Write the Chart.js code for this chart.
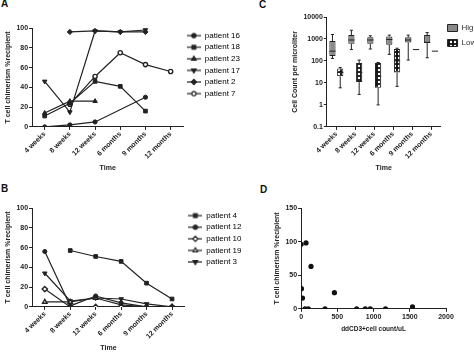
<!DOCTYPE html>
<html>
<head>
<meta charset="utf-8">
<script src="https://cdn.jsdelivr.net/npm/chart.js@4.4.1/dist/chart.umd.min.js"></script>
<style>
  html, body { margin: 0; padding: 0; background: #fff; }
  body { width: 474px; height: 354px; position: relative; overflow: hidden; }
  canvas { position: absolute; }
  .lbl { position: absolute; font: bold 10px Arial, "Liberation Sans", sans-serif; color: #111; }
</style>
</head>
<body>
<div class="lbl" style="left:1px;top:-2px">A</div>
<div class="lbl" style="left:1px;top:183px">B</div>
<div class="lbl" style="left:259px;top:-1px">C</div>
<div class="lbl" style="left:260px;top:184px">D</div>
<canvas id="cA" width="245" height="178" style="left:0;top:0"></canvas>
<canvas id="cB" width="245" height="176" style="left:0;top:178px"></canvas>
<canvas id="cC" width="245" height="178" style="left:245px;top:0"></canvas>
<canvas id="cD" width="229" height="176" style="left:245px;top:178px"></canvas>
<script>
const timeLabels = ['4 weeks', '8 weeks', '12 weeks', '6 months', '9 months', '12 months'];

// panel A
const p16 = [0, 2, 5, null, 30, null];
const p18 = [11, 24, 46, 41, 16, null];
const p23 = [14, 26, 26, null, null, null];
const p17 = [46, 15, 97, 96, 98, null];
const p2 = [null, 96, 97, 96, 96, null];
const p7 = [null, 23, 51, 75, 63, 56];

// panel B
const p4 = [null, 57, 51, 46, 24, 8];
const p12 = [56, 1, 11, 4, 0, 0];
const p10 = [18, 0, 0, 0, 0, 0];
const p19 = [5, 5, 9, 2, 0, 0];
const p3 = [34, 6, 9, 8, 3, 0];

// panel C (box plots, cells per microliter)
const highMin = [130, 330, 350, 200, 110, 140];
const highQ1 = [170, 600, 600, 550, 700, 650];
const highMed = [280, 900, 900, 950, 900, 700];
const highQ3 = [800, 1500, 1200, 1300, 1200, 1500];
const highMax = [1600, 2500, 1400, 1500, 1500, 1950];
const lowMin = [6, 3, 1, 7, null, null];
const lowQ1 = [20, 11, 6, 30, null, null];
const lowMed = [30, 30, 20, 100, 330, 280];
const lowQ3 = [45, 80, 80, 350, null, null];
const lowMax = [50, 110, 85, 380, null, null];
const logTicks = [0.1, 1, 10, 100, 1000, 10000];

// panel D
const cd3Count = [0, 5, 20, 68, 137, 55, 100, 330, 460, 767, 886, 955, 1166, 1538];
const chimerism = [96, 30, 16, 98, 63, 0, 0, 0, 24, 0, 0, 0, 0, 3];

Chart.defaults.font.family = 'Arial, "Liberation Sans", sans-serif';
Chart.defaults.font.size = 7;
Chart.defaults.font.weight = 'bold';
Chart.defaults.color = '#222';
Chart.defaults.animation = false;
Chart.defaults.responsive = false;
Chart.defaults.plugins.tooltip.enabled = false;

const ink = '#222';

function legendIcon(style, rot, fill, r) {
  const c = document.createElement('canvas');
  c.width = 14; c.height = 8;
  const g = c.getContext('2d');
  g.strokeStyle = ink; g.lineWidth = 1.2;
  g.beginPath(); g.moveTo(0, 4); g.lineTo(14, 4); g.stroke();
  g.fillStyle = fill;
  Chart.helpers.drawPoint(g, { pointStyle: style, rotation: rot, radius: r, borderWidth: 1.2 }, 7, 4);
  return c;
}

function series(label, data, style, rot, fill) {
  const r = style === 'circle' ? 2.1 : 2.6;
  return {
    label, data,
    borderColor: ink, borderWidth: 1.2,
    pointStyle: style, pointRotation: rot || 0,
    pointRadius: r, pointBorderWidth: fill === '#fff' ? 1.4 : 1,
    pointBackgroundColor: fill, pointBorderColor: ink,
    spanGaps: true,
    icon: legendIcon(style, rot || 0, fill, r)
  };
}

function catAxis() {
  return {
    type: 'category', offset: true,
    grid: { offset: false, drawOnChartArea: false, color: ink, tickLength: 3 },
    border: { color: ink, width: 1 },
    ticks: { minRotation: 45, maxRotation: 45, padding: 0, color: ink },
    title: { display: true, text: 'Time', color: ink, padding: { top: 3, bottom: 0 } }
  };
}

function valAxis(max, step, title) {
  return {
    min: 0, max: max,
    grid: { drawOnChartArea: false, color: ink, tickLength: 3 },
    border: { color: ink, width: 1 },
    ticks: { stepSize: step, padding: 1, color: ink },
    title: { display: true, text: title, color: ink, padding: { top: 0, bottom: 3 } }
  };
}

const lineLegend = {
  position: 'right', align: 'start',
  labels: {
    usePointStyle: true, pointStyleWidth: 14, boxHeight: 8, padding: 3.6,
    color: '#333', font: { size: 8, weight: 'normal' },
    generateLabels: chart => chart.data.datasets.map((ds, i) => ({
      text: ds.label, pointStyle: ds.icon, datasetIndex: i,
      fillStyle: 'transparent', strokeStyle: 'transparent', lineWidth: 0, hidden: false
    }))
  }
};

new Chart(document.getElementById('cA'), {
  type: 'line',
  data: {
    labels: timeLabels,
    datasets: [
      series('patient 16', p16, 'circle', 0, ink),
      series('patient 18', p18, 'rect', 0, ink),
      series('patient 23', p23, 'triangle', 0, ink),
      series('patient 17', p17, 'triangle', 180, ink),
      series('patient 2', p2, 'rectRot', 0, ink),
      series('patient 7', p7, 'circle', 0, '#fff')
    ]
  },
  options: {
    layout: { padding: { left: 4, top: 28, right: 2, bottom: 6 } },
    plugins: { legend: lineLegend },
    scales: { x: catAxis(), y: valAxis(100, 20, 'T cell chimerism %recipient') }
  }
});

new Chart(document.getElementById('cB'), {
  type: 'line',
  data: {
    labels: timeLabels,
    datasets: [
      series('patient 4', p4, 'rect', 0, ink),
      series('patient 12', p12, 'circle', 0, ink),
      series('patient 10', p10, 'rectRot', 0, '#fff'),
      series('patient 19', p19, 'triangle', 0, '#fff'),
      series('patient 3', p3, 'triangle', 180, ink)
    ]
  },
  options: {
    layout: { padding: { left: 4, top: 30, right: 0, bottom: 2 } },
    plugins: { legend: lineLegend },
    scales: { x: catAxis(), y: valAxis(100, 20, 'T cell chimerism %recipient') }
  }
});

// checkered fill for the "Low" boxes
const cC = document.getElementById('cC');
const tile = document.createElement('canvas');
tile.width = 4; tile.height = 4;
const tg = tile.getContext('2d');
tg.fillStyle = '#111'; tg.fillRect(0, 0, 4, 4);
tg.fillStyle = '#fff';
tg.beginPath(); tg.arc(2, 2, 1.2, 0, Math.PI * 2); tg.fill();
const checker = cC.getContext('2d').createPattern(tile, 'repeat');

const boxWhiskers = {
  id: 'boxWhiskers',
  afterDatasetsDraw(chart) {
    const ctx = chart.ctx, y = chart.scales.y;
    const stats = [[highMin, highQ1, highMed, highQ3, highMax], [lowMin, lowQ1, lowMed, lowQ3, lowMax]];
    ctx.save();
    ctx.strokeStyle = ink; ctx.lineWidth = 1;
    stats.forEach((s, di) => {
      chart.getDatasetMeta(di).data.forEach((bar, i) => {
        const x = bar.x, w = bar.width;
        const [mn, q1, md, q3, mx] = s.map(a => a[i]);
        ctx.beginPath();
        if (q1 == null) {
          ctx.moveTo(x - w / 2, y.getPixelForValue(md));
          ctx.lineTo(x + w / 2, y.getPixelForValue(md));
        } else {
          ctx.moveTo(x, y.getPixelForValue(q3)); ctx.lineTo(x, y.getPixelForValue(mx));
          ctx.moveTo(x, y.getPixelForValue(q1)); ctx.lineTo(x, y.getPixelForValue(mn));
          ctx.moveTo(x - w / 4, y.getPixelForValue(mx)); ctx.lineTo(x + w / 4, y.getPixelForValue(mx));
          ctx.moveTo(x - w / 4, y.getPixelForValue(mn)); ctx.lineTo(x + w / 4, y.getPixelForValue(mn));
          ctx.moveTo(x - w / 2, y.getPixelForValue(md)); ctx.lineTo(x + w / 2, y.getPixelForValue(md));
        }
        ctx.stroke();
      });
    });
    ctx.restore();
  }
};

new Chart(cC, {
  type: 'bar',
  data: {
    labels: timeLabels,
    datasets: [
      {
        label: 'High', data: highQ1.map((v, i) => [v, highQ3[i]]),
        backgroundColor: '#8a8a8a', borderColor: ink, borderWidth: 1, borderSkipped: false,
        categoryPercentage: 0.82, barPercentage: 0.8
      },
      {
        label: 'Low', data: lowQ1.map((v, i) => v == null ? null : [v, lowQ3[i]]),
        backgroundColor: checker, borderColor: ink, borderWidth: 1, borderSkipped: false,
        categoryPercentage: 0.82, barPercentage: 0.8
      }
    ]
  },
  options: {
    layout: { padding: { left: 46, top: 17, right: 2, bottom: 6 } },
    plugins: {
      legend: {
        position: 'right', align: 'start',
        labels: { boxWidth: 10, boxHeight: 7, padding: 7, color: '#333', font: { size: 8, weight: 'normal' } }
      }
    },
    scales: {
      x: catAxis(),
      y: {
        type: 'logarithmic', min: 0.1, max: 10000,
        afterBuildTicks: axis => { axis.ticks = logTicks.map(v => ({ value: v })); },
        grid: { drawOnChartArea: false, color: ink, tickLength: 3 },
        border: { color: ink, width: 1 },
        ticks: { padding: 1, color: ink, callback: v => String(v) },
        title: { display: true, text: 'Cell Count per microliter', color: ink, padding: { top: 0, bottom: 3 } }
      }
    }
  },
  plugins: [boxWhiskers]
});

new Chart(document.getElementById('cD'), {
  type: 'scatter',
  data: {
    datasets: [{
      data: cd3Count.map((v, i) => ({ x: v, y: chimerism[i] })),
      backgroundColor: '#111', borderWidth: 0, pointRadius: 2.6
    }]
  },
  options: {
    layout: { padding: { left: 28, top: 30, right: 28, bottom: 21 } },
    plugins: { legend: { display: false } },
    scales: {
      x: {
        type: 'linear', min: 0, max: 2000,
        grid: { drawOnChartArea: false, color: ink, tickLength: 3 },
        border: { color: ink, width: 1 },
        ticks: { stepSize: 500, padding: 1, color: ink, callback: v => String(v) },
        title: { display: true, text: 'ddCD3+cell count/uL', color: ink, font: { size: 6.5 }, padding: { top: 3, bottom: 0 } }
      },
      y: valAxis(150, 50, 'T cell chimerism %recipient')
    }
  }
});
</script>
</body>
</html>
